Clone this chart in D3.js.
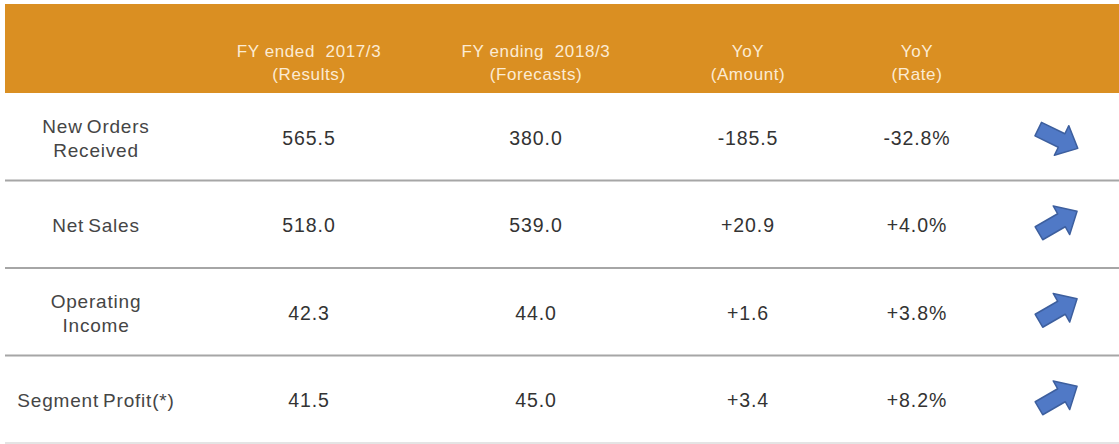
<!DOCTYPE html>
<html>
<head>
<meta charset="utf-8">
<script src="https://cdn.jsdelivr.net/npm/d3@7"></script>
<style>
  body { margin: 0; background: #fff; }
  svg { display: block; font-family: "Liberation Sans", Arial, sans-serif; }
</style>
</head>
<body>
<div id="table"></div>
<script>
// data
var rowLabels = [["New Orders", "Received"], ["Net Sales"], ["Operating", "Income"], ["Segment Profit(*)"]];
var fy2017 = [565.5, 518.0, 42.3, 41.5];
var fy2018 = [380.0, 539.0, 44.0, 45.0];
var yoyAmount = ["-185.5", "+20.9", "+1.6", "+3.4"];
var yoyRate = ["-32.8%", "+4.0%", "+3.8%", "+8.2%"];
var headers = [["FY ended  2017/3", "(Results)"], ["FY ending  2018/3", "(Forecasts)"], ["YoY", "(Amount)"], ["YoY", "(Rate)"]];

var width = 1119, height = 444;
var head_top = 4, head_bottom = 93, table_bottom = 443;

var svg = d3.select("#table").append("svg")
  .attr("width", width)
  .attr("height", height);

var cols = ["label", "c1", "c2", "c3", "c4", "arrow"];
var x = d3.scaleOrdinal().domain(cols).range([96, 309, 536, 748, 917, 1058]);

var y = d3.scaleBand()
  .domain(d3.range(rowLabels.length))
  .range([head_bottom, table_bottom]);

// header band
svg.append("rect")
  .attr("x", 5)
  .attr("y", head_top)
  .attr("width", width - 5)
  .attr("height", head_bottom - head_top)
  .attr("fill", "#DA8F22");

var head = svg.append("g").selectAll("text")
  .data(headers)
  .join("text")
  .attr("x", function(d, i) { return x(cols[i + 1]); })
  .attr("y", 57)
  .attr("text-anchor", "middle")
  .attr("font-size", 17)
  .attr("letter-spacing", 0.6)
  .attr("fill", "#FCEBD3");

head.selectAll("tspan")
  .data(function(d) { return d; })
  .join("tspan")
  .attr("x", function() { return d3.select(this.parentNode).attr("x"); })
  .attr("dy", function(d, i) { return i === 0 ? 0 : 23; })
  .style("white-space", "pre")
  .text(function(d) { return d; });

// row separators
svg.append("g").selectAll("line")
  .data(d3.range(1, rowLabels.length + 1))
  .join("line")
  .attr("x1", 5)
  .attr("x2", width)
  .attr("y1", function(i) { return i < rowLabels.length ? y(i) : table_bottom; })
  .attr("y2", function(i) { return i < rowLabels.length ? y(i) : table_bottom; })
  .attr("stroke", function(i) { return i < rowLabels.length ? "#A6A6A6" : "#E4E4E4"; })
  .attr("stroke-width", 2);

var rows = svg.append("g").selectAll("g")
  .data(rowLabels.map(function(d, i) { return i; }))
  .join("g")
  .attr("transform", function(i) { return "translate(0," + (y(i) + y.bandwidth() / 2) + ")"; });

// row labels
rows.append("text")
  .attr("text-anchor", "middle")
  .attr("font-size", 19)
  .attr("letter-spacing", 0.8)
  .attr("word-spacing", -2)
  .attr("fill", "#454545")
  .attr("y", function(i) { return rowLabels[i].length > 1 ? -4 : 8; })
  .selectAll("tspan")
  .data(function(i) { return rowLabels[i]; })
  .join("tspan")
  .attr("x", x("label"))
  .attr("dy", function(d, j) { return j === 0 ? 0 : 24; })
  .text(function(d) { return d; });

var fmt = d3.format(".1f");
var cells = [
  ["c1", function(i) { return fmt(fy2017[i]); }],
  ["c2", function(i) { return fmt(fy2018[i]); }],
  ["c3", function(i) { return yoyAmount[i]; }],
  ["c4", function(i) { return yoyRate[i]; }]
];

cells.forEach(function(c) {
  rows.append("text")
    .attr("x", x(c[0]))
    .attr("y", 8)
    .attr("text-anchor", "middle")
    .attr("font-size", 19.5)
    .attr("letter-spacing", 0.9)
    .attr("fill", "#333333")
    .text(c[1]);
});

// arrows
var arrowPath = "M-22,-7.5 L4,-7.5 L4,-16.5 L22,0 L4,16.5 L4,7.5 L-22,7.5 Z";

rows.append("path")
  .attr("d", arrowPath)
  .attr("transform", function(i) {
    var up = yoyAmount[i].charAt(0) === "+";
    return "translate(" + x("arrow") + "," + (up ? -2 : 2) + ") rotate(" + (up ? -30 : 26) + ")";
  })
  .attr("fill", "#5079C6")
  .attr("stroke", "#3D5F9E")
  .attr("stroke-width", 1.5)
  .attr("stroke-linejoin", "round");
</script>
</body>
</html>
